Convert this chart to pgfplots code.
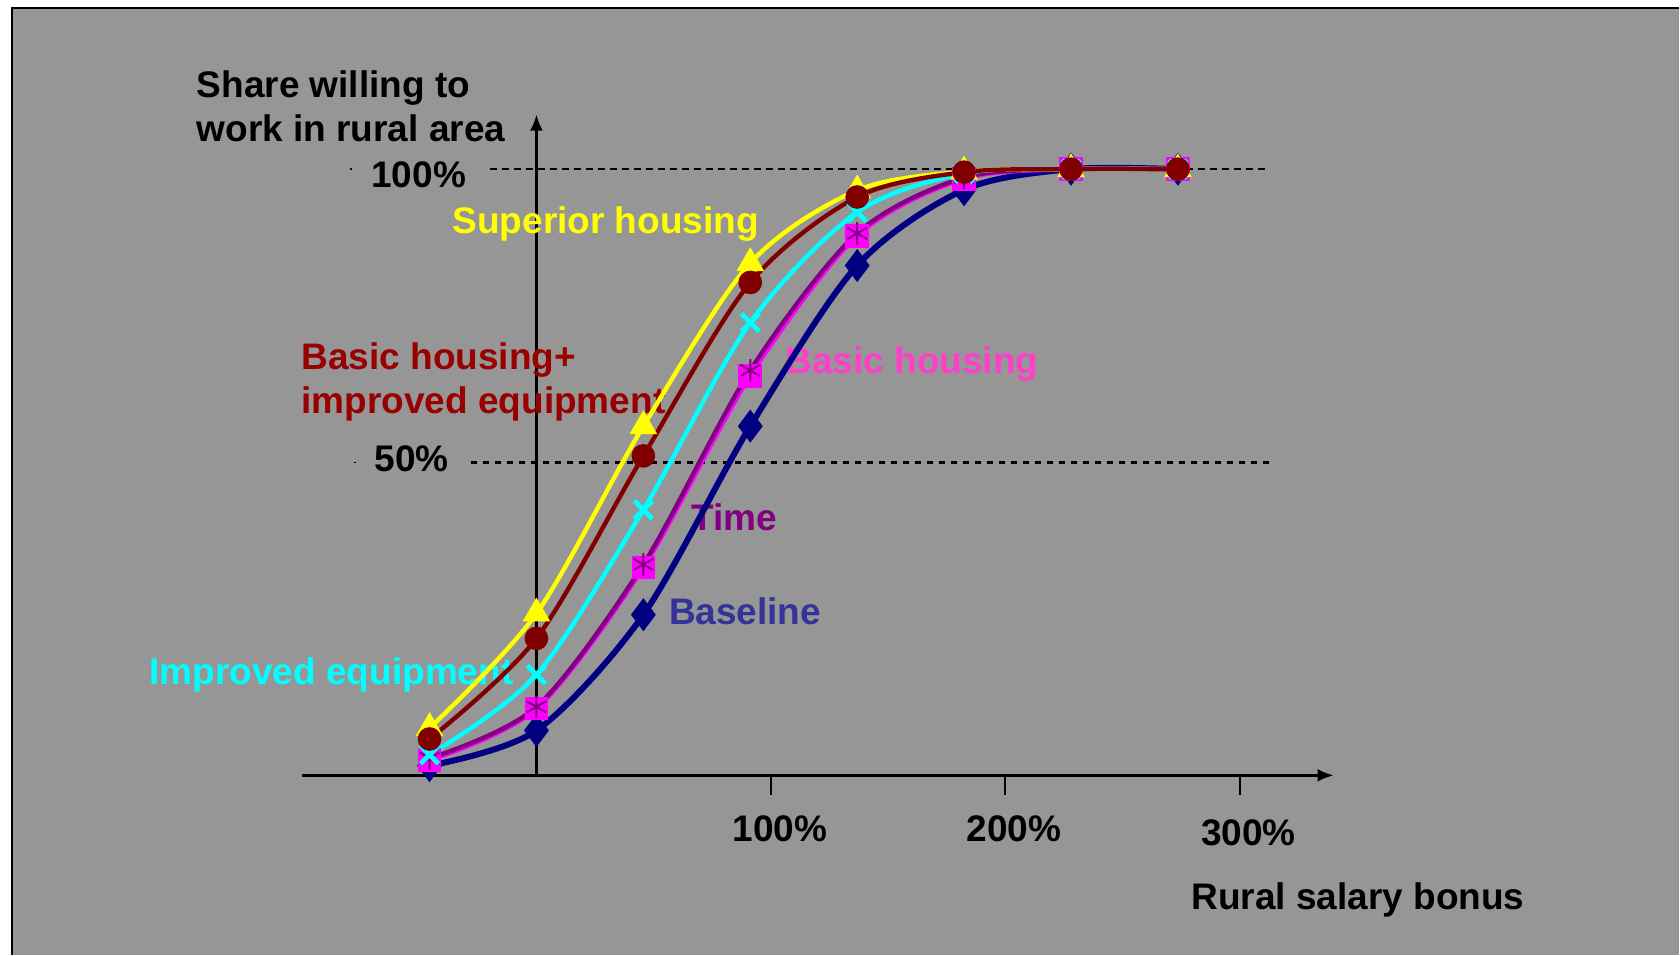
\documentclass[border=0pt]{standalone}
\usepackage{fontspec}
\setmainfont{Liberation Sans}
\usepackage{pgfplots}
\pgfplotsset{compat=1.18}
\usetikzlibrary{arrows.meta,backgrounds}
\definecolor{bg}{HTML}{969696}
\definecolor{cnavy}{HTML}{000080}
\definecolor{cpurple}{HTML}{800080}
\definecolor{cmag}{HTML}{FF00FF}
\definecolor{ccyan}{HTML}{00FFFF}
\definecolor{cdred}{HTML}{800000}
\definecolor{cyel}{HTML}{FFFF00}
\definecolor{tdred}{HTML}{990000}
\definecolor{tpink}{HTML}{FF3FCC}
\definecolor{tnavy}{HTML}{333399}
\begin{document}
\begin{tikzpicture}[lbl/.style={font=\fontsize{9.25}{11}\selectfont\bfseries, inner sep=0pt}]
\begin{axis}[
 at={(0,0)}, anchor=south west,
 scale only axis, width=258pt, height=165.25pt,
 xmin=-100, xmax=340, ymin=0, ymax=109,
 axis lines=middle,
 axis line style={line width=0.6pt, -{Latex[length=4pt,width=3.2pt]}},
 xtick={100,200,300}, xticklabels={}, ytick=\empty,
 tick align=outside, major tick length=4.9pt,
 tick style={line width=0.5pt, black},
 clip=false,
]
\coordinate (pgNW) at (axis cs:-228.8,127.9);
\coordinate (pgSE) at (axis cs:487.3,-29.57);
\coordinate (bgNW) at (axis cs:-223.7,126.6);
\coordinate (bgSW) at (axis cs:-223.7,-29.57);
\coordinate (bgNE) at (axis cs:487.3,126.6);
% reference lines
\draw[black, line width=0.55pt, dash pattern=on 1.6pt off 1.4pt] (axis cs:-19.6,100) -- (axis cs:311.4,100);
\draw[black, line width=0.55pt, dash pattern=on 1.6pt off 1.4pt] (axis cs:-27.9,51.6) -- (axis cs:313.7,51.6);
\draw[black, line width=0.4pt] (axis cs:-79.6,100) -- (axis cs:-78.6,100);
\draw[black, line width=0.4pt] (axis cs:-77.8,51.6) -- (axis cs:-76.8,51.6);
% labels
\node[lbl, anchor=west, align=left] at (axis cs:-145.2,110.3) {Share willing to\\work in rural area};
\node[lbl, anchor=east] at (axis cs:-29.7,99.1) {100\%};
\node[lbl, anchor=east] at (axis cs:-37.0,52.3) {50\%};
\node[lbl] at (axis cs:103.9,-8.8) {100\%};
\node[lbl] at (axis cs:203.7,-8.8) {200\%};
\node[lbl] at (axis cs:303.7,-9.4) {300\%};
\node[lbl, anchor=west] at (axis cs:279.0,-20.6) {Rural salary bonus};
\node[lbl, anchor=west, text=cyel] at (axis cs:-36.1,90.9) {Superior housing};
\node[lbl, anchor=west, align=left, text=tdred] at (axis cs:-100.5,64.9) {Basic housing+\\improved equipment};
\node[lbl, anchor=west, text=tpink] at (axis cs:105.9,67.8) {Basic housing};
\node[lbl, anchor=west, text=cpurple] at (axis cs:65.8,42.5) {Time};
\node[lbl, anchor=west, text=tnavy] at (axis cs:56.2,27.1) {Baseline};
\node[lbl, anchor=west, text=ccyan] at (axis cs:-165.3,16.5) {Improved equipment};
% Baseline
\addplot[cnavy, line width=1.5pt, smooth, tension=0.5, mark=diamond*, mark size=2.9pt, mark options={solid, fill=cnavy}]
 coordinates {(-45.6,1.6) (0,7.4) (45.6,26.5) (91.2,57.6) (136.8,84.1) (182.4,96.6) (228,100) (273.6,100)};
% Basic housing
\addplot[cmag, line width=1.1pt, smooth, tension=0.5, mark=square*, mark size=2.4pt, mark options={solid, fill=cmag}]
 coordinates {(-45.6,2.5) (0,11.0) (45.6,34.3) (91.2,65.9) (136.8,89.0) (182.4,98.4) (228,100) (273.6,100)};
% Time
\addplot[cpurple, line width=1.1pt, smooth, tension=0.5, mark=asterisk, mark size=2.8pt, mark options={solid, line width=0.5pt}]
 coordinates {(-45.6,2.8) (0,11.3) (45.6,34.8) (91.2,66.8) (136.8,89.4) (182.4,98.6) (228,100) (273.6,100)};
% Improved equipment
\addplot[ccyan, line width=1.1pt, smooth, tension=0.5, mark=x, mark size=3.2pt, mark options={solid, line width=1.2pt}]
 coordinates {(-45.6,3.4) (0,16.6) (45.6,43.8) (91.2,74.7) (136.8,92.9) (182.4,99.3) (228,100) (273.6,100)};
% Superior housing
\addplot[cyel, line width=1.1pt, smooth, tension=0.5, mark=triangle*, mark size=2.9pt, mark options={solid, fill=cyel}]
 coordinates {(-45.6,7.8) (0,26.7) (45.6,57.6) (91.2,84.5) (136.8,96.5) (182.4,99.6) (228,100) (273.6,100)};
% Basic housing + improved equipment
\addplot[cdred, line width=1.1pt, smooth, tension=0.5, mark=*, mark size=2.4pt, mark options={solid, fill=cdred}]
 coordinates {(-45.6,6.0) (0,22.6) (45.6,52.7) (91.2,81.3) (136.8,95.4) (182.4,99.5) (228,100) (273.6,100)};
\end{axis}
\begin{scope}[on background layer]
\fill[white] (pgNW) rectangle (pgSE);
\fill[bg] (bgNW) rectangle (pgSE);
\draw[black, line width=0.5pt] (bgSW) -- (bgNW) -- (bgNE);
\end{scope}
\end{tikzpicture}
\end{document}
